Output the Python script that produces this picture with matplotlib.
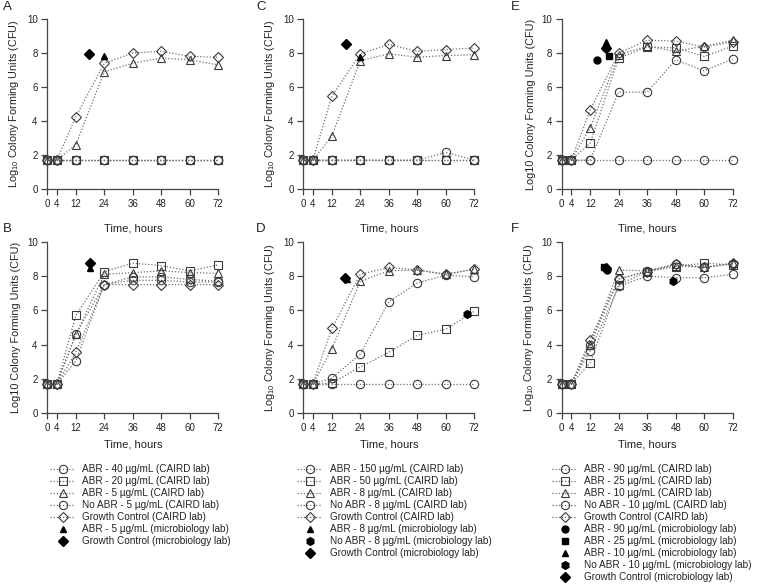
import matplotlib
matplotlib.use("Agg")
import matplotlib.pyplot as plt
from matplotlib.lines import Line2D

plt.rcParams['font.family'] = ['Liberation Sans', 'DejaVu Sans']
plt.rcParams['mathtext.fontset'] = 'custom'
plt.rcParams['mathtext.rm'] = 'Liberation Sans'
plt.rcParams['mathtext.it'] = 'Liberation Sans'

# sampling times (hours)
hours = [0, 4, 12, 24, 36, 48, 60, 72]
tick_hours = [0, 4, 12, 24, 36, 48, 60, 72]

# ---- Panel A (CAIRD lab series) ----
A_labels = ['ABR - 40 \u00b5g/mL (CAIRD lab)', 'ABR - 20 \u00b5g/mL (CAIRD lab)',
            'ABR - 5 \u00b5g/mL (CAIRD lab)', 'No ABR - 5 \u00b5g/mL (CAIRD lab)',
            'Growth Control (CAIRD lab)']
A_abr40 = [1.7, 1.7, 1.7, 1.7, 1.7, 1.7, 1.7, 1.7]
A_abr20 = [1.7, 1.7, 1.7, 1.7, 1.7, 1.7, 1.7, 1.7]
A_abr5 = [1.7, 1.7, 2.6, 6.9, 7.4, 7.7, 7.6, 7.3]
A_noabr = [1.7, 1.7, 1.7, 1.7, 1.7, 1.7, 1.7, 1.7]
A_growth = [1.7, 1.7, 4.25, 7.4, 8.0, 8.1, 7.8, 7.75]
# microbiology lab points
A_micro_labels = ['ABR - 5 \u00b5g/mL (microbiology lab)', 'Growth Control (microbiology lab)']
A_micro_x = [24, 17.5]
A_micro_y = [7.85, 7.95]

# ---- Panel B ----
B_abr40 = [1.7, 1.7, 3.05, 7.5, 7.75, 7.75, 7.65, 7.65]
B_abr20 = [1.7, 1.7, 5.7, 8.25, 8.75, 8.6, 8.3, 8.65]
B_abr5 = [1.7, 1.7, 4.6, 8.1, 8.2, 8.3, 8.2, 8.15]
B_noabr = [1.7, 1.7, 4.6, 7.5, 7.95, 7.95, 7.8, 7.7]
B_growth = [1.7, 1.7, 3.55, 7.5, 7.5, 7.5, 7.5, 7.5]
B_micro_x = [18, 18]
B_micro_y = [8.45, 8.75]

# ---- Panel C ----
C_labels = ['ABR - 150 \u00b5g/mL (CAIRD lab)', 'ABR - 50 \u00b5g/mL (CAIRD lab)',
            'ABR - 8 \u00b5g/mL (CAIRD lab)', 'No ABR - 8 \u00b5g/mL (CAIRD lab)',
            'Growth Control (CAIRD lab)']
C_abr150 = [1.7, 1.7, 1.7, 1.7, 1.7, 1.7, 1.7, 1.7]
C_abr50 = [1.7, 1.7, 1.7, 1.7, 1.7, 1.7, 1.7, 1.7]
C_abr8 = [1.7, 1.7, 3.1, 7.55, 7.95, 7.75, 7.85, 7.9]
C_noabr = [1.7, 1.7, 1.7, 1.7, 1.7, 1.7, 2.15, 1.7]
C_growth = [1.7, 1.7, 5.45, 7.95, 8.5, 8.1, 8.2, 8.3]
C_micro_labels = ['ABR - 8 \u00b5g/mL (microbiology lab)', 'No ABR - 8 \u00b5g/mL (microbiology lab)',
                  'Growth Control (microbiology lab)']
C_micro_x = [24, None, 18]
C_micro_y = [7.75, None, 8.5]

# ---- Panel D ----
D_abr150 = [1.7, 1.7, 2.05, 3.45, 6.5, 7.6, 8.05, 7.95]
D_abr50 = [1.7, 1.7, 1.75, 2.7, 3.55, 4.55, 4.9, 5.95]
D_abr8 = [1.7, 1.7, 3.75, 7.7, 8.3, 8.35, 8.1, 8.4]
D_noabr = [1.7, 1.7, 1.7, 1.7, 1.7, 1.7, 1.7, 1.7]
D_growth = [1.7, 1.7, 4.95, 8.1, 8.5, 8.35, 8.1, 8.4]
D_micro_x = [18.5, 69, 17.5]
D_micro_y = [7.85, 5.8, 7.9]

# ---- Panel E ----
E_labels = ['ABR - 90 \u00b5g/mL (CAIRD lab)', 'ABR - 25 \u00b5g/mL (CAIRD lab)',
            'ABR - 10 \u00b5g/mL (CAIRD lab)', 'No ABR - 10 \u00b5g/mL (CAIRD lab)',
            'Growth Control (CAIRD lab)']
E_abr90 = [1.7, 1.7, 1.7, 5.7, 5.7, 7.6, 6.95, 7.65]
E_abr25 = [1.7, 1.7, 2.7, 7.7, 8.35, 8.3, 7.8, 8.4]
E_abr10 = [1.7, 1.7, 3.6, 7.9, 8.4, 8.1, 8.4, 8.75]
E_noabr = [1.7, 1.7, 1.7, 1.7, 1.7, 1.7, 1.7, 1.7]
E_growth = [1.7, 1.7, 4.65, 8.0, 8.75, 8.7, 8.35, 8.65]
E_micro_labels = ['ABR - 90 \u00b5g/mL (microbiology lab)', 'ABR - 25 \u00b5g/mL (microbiology lab)',
                  'ABR - 10 \u00b5g/mL (microbiology lab)', 'No ABR - 10 \u00b5g/mL (microbiology lab)',
                  'Growth Control (microbiology lab)']
E_micro_x = [15, 20, 18.5, 18.5, 18.5]
E_micro_y = [7.6, 7.8, 8.65, 8.3, 8.3]

# ---- Panel F ----
F_abr90 = [1.7, 1.7, 3.65, 7.4, 8.0, 7.9, 7.9, 8.1]
F_abr25 = [1.7, 1.7, 2.95, 7.5, 8.25, 8.55, 8.75, 8.65]
F_abr10 = [1.7, 1.7, 4.0, 8.35, 8.3, 8.6, 8.5, 8.75]
F_noabr = [1.7, 1.7, 4.0, 7.8, 8.3, 8.7, 8.5, 8.7]
F_growth = [1.7, 1.7, 4.3, 7.85, 8.25, 8.7, 8.5, 8.75]
F_micro_x = [19, 18, 18.5, 47, 18.5]
F_micro_y = [8.35, 8.55, 8.45, 7.7, 8.45]

caird_markers = ['o', 's', '^', 'o', 'D']
caird_sizes = [6, 5.5, 6, 6, 5.5]
micro_A = ['^', 'D']
micro_C = ['^', 'h', 'D']
micro_E = ['o', 's', '^', 'h', 'D']

line_col = '#707070'
edge_col = '#3a3a3a'

fig = plt.figure(figsize=(7.6, 5.87), dpi=100)
W, H = 760.0, 587.0


def make_axes(x0, y0_px, y10_px, x72):
    return fig.add_axes([x0 / W, 1 - y0_px / H, (x72 - x0) / W, (y0_px - y10_px) / H])


def draw_panel(ax, series, micro_marks, micro_x, micro_y, ylabel, xpad):
    handles = []
    for vals, m, ms in zip(series, caird_markers, caird_sizes):
        h, = ax.plot(hours, vals, linestyle=(0, (1, 1.5)), color=line_col, linewidth=0.9,
                     marker=m, markersize=ms, markerfacecolor='none',
                     markeredgecolor=edge_col, markeredgewidth=0.8, clip_on=False)
        handles.append(h)
    mh = []
    for m, x, y in zip(micro_marks, micro_x, micro_y):
        ms = 5.5 if m in ('D', 'h') else 5
        if x is not None:
            ax.plot([x], [y], linestyle='none', marker=m, markersize=ms, color='black',
                    clip_on=False, zorder=5)
        mh.append(Line2D([], [], linestyle='none', marker=m, markersize=ms, color='black'))
    ax.set_xlim(0, 72)
    ax.set_ylim(0, 10)
    ax.set_xticks(tick_hours)
    ax.set_yticks([0, 2, 4, 6, 8, 10])
    ax.spines['top'].set_visible(False)
    ax.spines['right'].set_visible(False)
    for s in ('left', 'bottom'):
        ax.spines[s].set_color('#444444')
        ax.spines[s].set_linewidth(0.9)
    ax.tick_params(direction='out', length=4, width=0.9, color='#444444',
                   labelsize=7, labelcolor='#222222', pad=3)
    ax.set_ylabel(ylabel, fontsize=7.8, color='#222222', labelpad=4)
    ax.set_xlabel('Time, hours', fontsize=8, color='#222222', labelpad=xpad)
    return handles, mh


sub_label = r'Log$_{10}$ Colony Forming Units (CFU)'
plain_label = 'Log10 Colony Forming Units (CFU)'

cols = [(47.3, 218.3), (303.3, 474.3), (561.7, 732.7)]
axA = make_axes(cols[0][0], 189, 19, cols[0][1])
axB = make_axes(cols[0][0], 413.3, 241.7, cols[0][1])
axC = make_axes(cols[1][0], 189, 19, cols[1][1])
axD = make_axes(cols[1][0], 413.3, 241.7, cols[1][1])
axE = make_axes(cols[2][0], 189, 19, cols[2][1])
axF = make_axes(cols[2][0], 413.3, 241.7, cols[2][1])

hA, mA = draw_panel(axA, [A_abr40, A_abr20, A_abr5, A_noabr, A_growth], micro_A, A_micro_x, A_micro_y, sub_label, 11)
draw_panel(axB, [B_abr40, B_abr20, B_abr5, B_noabr, B_growth], micro_A, B_micro_x, B_micro_y, plain_label, 5)
hC, mC = draw_panel(axC, [C_abr150, C_abr50, C_abr8, C_noabr, C_growth], micro_C, C_micro_x, C_micro_y, sub_label, 11)
draw_panel(axD, [D_abr150, D_abr50, D_abr8, D_noabr, D_growth], micro_C, D_micro_x, D_micro_y, sub_label, 5)
hE, mE = draw_panel(axE, [E_abr90, E_abr25, E_abr10, E_noabr, E_growth], micro_E, E_micro_x, E_micro_y, plain_label, 11)
draw_panel(axF, [F_abr90, F_abr25, F_abr10, F_noabr, F_growth], micro_E, F_micro_x, F_micro_y, sub_label, 5)

# panel letters
for txt, x, y in [('A', 3, 7), ('B', 3, 229), ('C', 256, 7), ('D', 256, 229), ('E', 511, 7), ('F', 511, 229)]:
    fig.text(x / W, 1 - y / H, txt, fontsize=9.5, color='#222222', va='center', ha='left')

# legends under the bottom row
for handles, micro, labels, mlabels, x in [(hA, mA, A_labels, A_micro_labels, 50),
                                           (hC, mC, C_labels, C_micro_labels, 297),
                                           (hE, mE, E_labels, E_micro_labels, 552)]:
    fig.legend(handles + micro, labels + mlabels, loc='upper left',
               bbox_to_anchor=(x / W, 1 - 464 / H), frameon=False, fontsize=7.2,
               handlelength=2.5, handletextpad=0.75, labelspacing=0.2,
               borderpad=0, borderaxespad=0, labelcolor='#222222')

fig.savefig('out.png', dpi=100)
